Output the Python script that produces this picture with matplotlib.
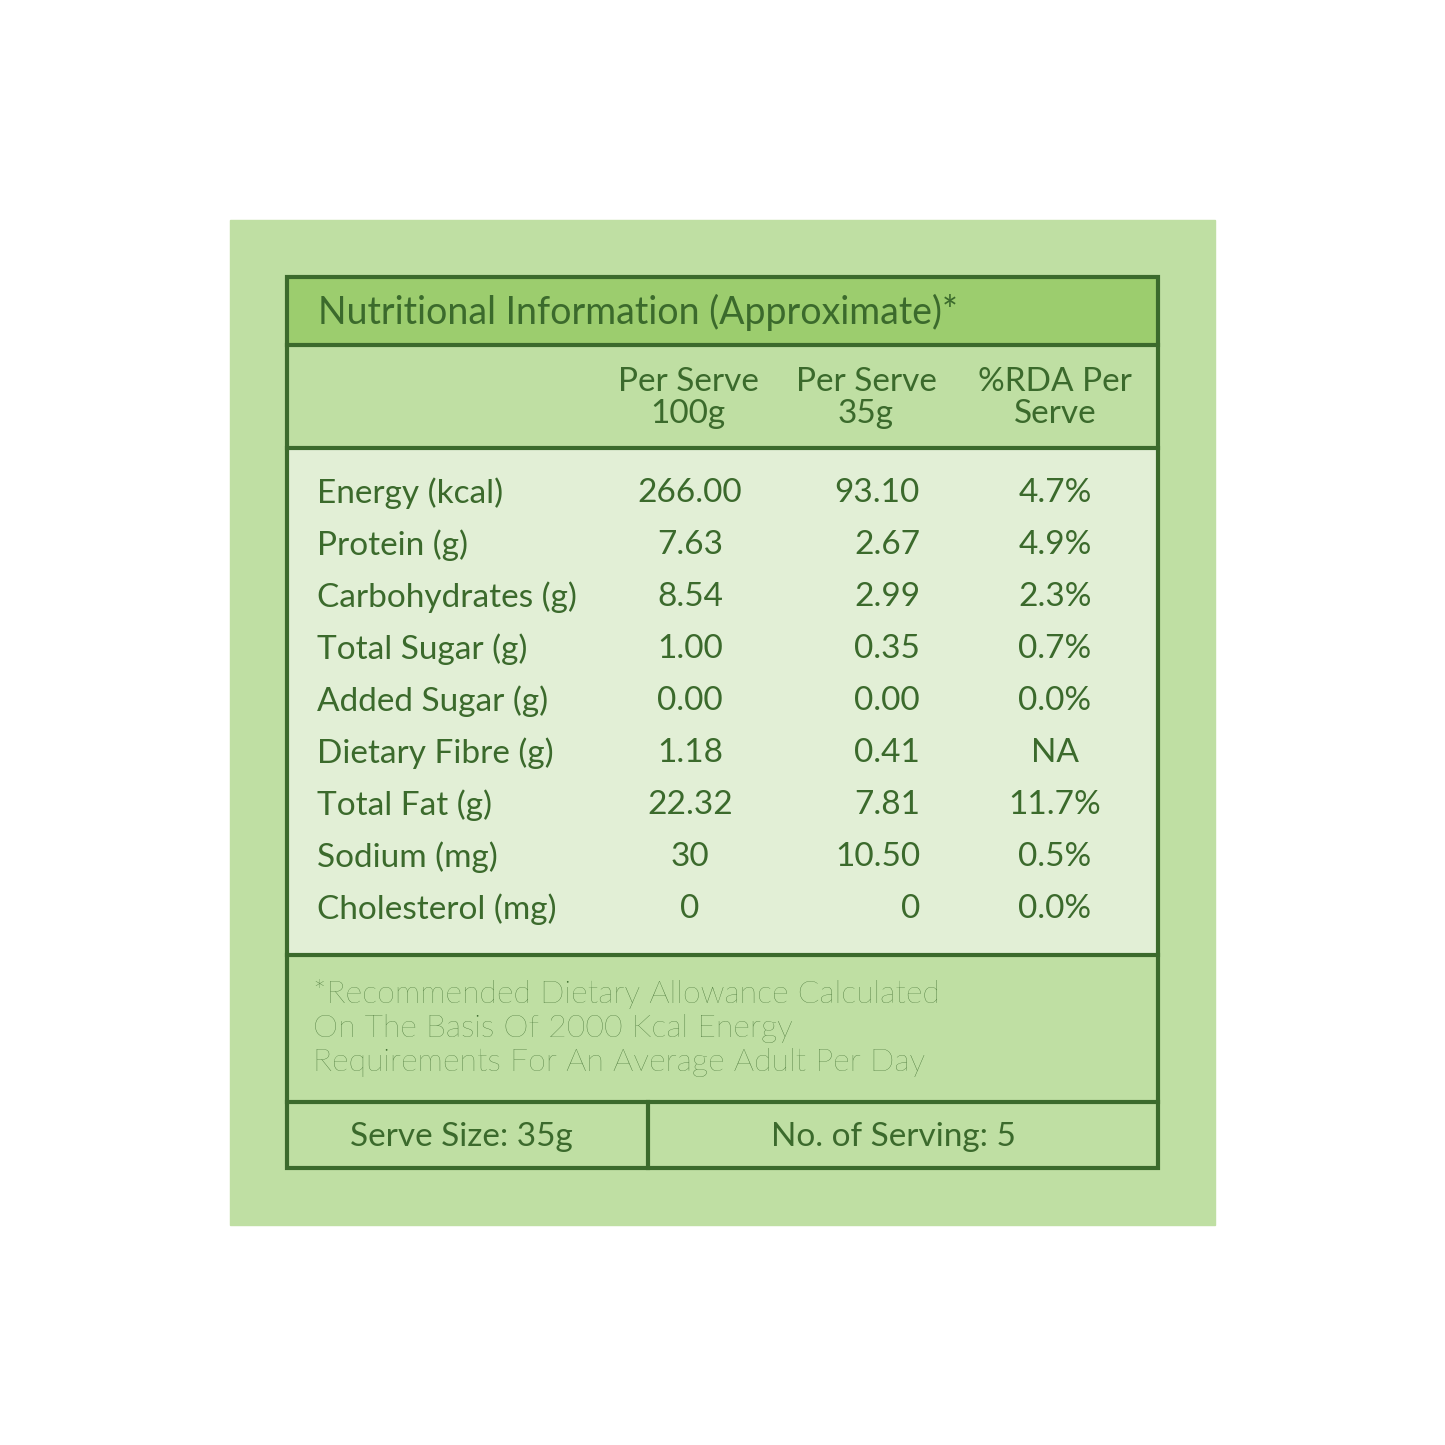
import matplotlib.pyplot as plt
from matplotlib.patches import Rectangle

nutrients = ["Energy (kcal)", "Protein (g)", "Carbohydrates (g)", "Total Sugar (g)",
             "Added Sugar (g)", "Dietary Fibre (g)", "Total Fat (g)", "Sodium (mg)",
             "Cholesterol (mg)"]
per_100g = ["266.00", "7.63", "8.54", "1.00", "0.00", "1.18", "22.32", "30", "0"]
per_35g = ["93.10", "2.67", "2.99", "0.35", "0.00", "0.41", "7.81", "10.50", "0"]
rda = ["4.7%", "4.9%", "2.3%", "0.7%", "0.0%", "NA", "11.7%", "0.5%", "0.0%"]
col_headers = ["Per Serve\n100g", "Per Serve\n35g", "%RDA Per\nServe"]
footnote = ("*Recommended Dietary Allowance Calculated\nOn The Basis Of 2000 Kcal Energy\n"
            "Requirements For An Average Adult Per Day")

dark = "#3b6a2c"
mid = "#bfdfa3"
head = "#9ccd6e"
light = "#e2efd6"
plt.rcParams['font.family'] = ['Lato', 'DejaVu Sans']

fig = plt.figure(figsize=(14.45, 14.45), dpi=100)
ax = fig.add_axes([0, 0, 1, 1])
ax.set_xlim(0, 1445)
ax.set_ylim(1445, 0)
ax.axis('off')

ax.add_patch(Rectangle((230, 220), 985, 1005, color=mid))
ax.add_patch(Rectangle((287, 277), 871, 68, color=head))
ax.add_patch(Rectangle((287, 448), 871, 507, color=light))
ax.add_patch(Rectangle((287, 277), 871, 891, fill=False, ec=dark, lw=3))
for y in [345, 448, 955, 1102]:
    ax.plot([287, 1158], [y, y], color=dark, lw=3)
ax.plot([648, 648], [1102, 1168], color=dark, lw=3)

ax.text(318, 312, "Nutritional Information (Approximate)*", color=dark, fontsize=27,
        va='center', ha='left')
for x, h in zip([688, 866, 1055], col_headers):
    ax.text(x, 398, h, color=dark, fontsize=24, ha='center', va='center', linespacing=1.05)

for i, name in enumerate(nutrients):
    y = 493 + 52 * i
    ax.text(317, y, name, color=dark, fontsize=24, ha='left', va='center')
    ax.text(690, y, per_100g[i], color=dark, fontsize=24, ha='center', va='center')
    ax.text(920, y, per_35g[i], color=dark, fontsize=24, ha='right', va='center')
    ax.text(1055, y, rda[i], color=dark, fontsize=24, ha='center', va='center')

ax.text(313, 1028, footnote, color=dark, fontsize=23, ha='left', va='center',
        linespacing=1.2, fontweight='light')
ax.text(461, 1137, "Serve Size: 35g", color=dark, fontsize=24, ha='center', va='center')
ax.text(893, 1137, "No. of Serving: 5", color=dark, fontsize=24, ha='center', va='center')

fig.savefig("out.png", dpi=100, facecolor='white')
